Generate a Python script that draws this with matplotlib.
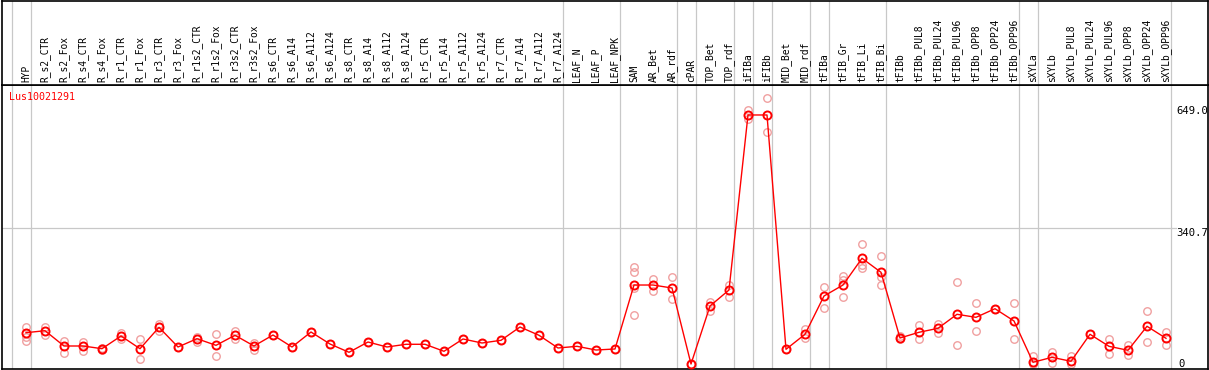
import matplotlib
matplotlib.use("Agg")
import matplotlib.pyplot as plt

gene = "Lus10021291"

categories = [
    "HYP", "R_s2_CTR", "R_s2_Fox", "R_s4_CTR", "R_s4_Fox", "R_r1_CTR", "R_r1_Fox",
    "R_r3_CTR", "R_r3_Fox", "R_r1s2_CTR", "R_r1s2_Fox", "R_r3s2_CTR", "R_r3s2_Fox",
    "R_s6_CTR", "R_s6_A14", "R_s6_A112", "R_s6_A124", "R_s8_CTR", "R_s8_A14",
    "R_s8_A112", "R_s8_A124", "R_r5_CTR", "R_r5_A14", "R_r5_A112", "R_r5_A124",
    "R_r7_CTR", "R_r7_A14", "R_r7_A112", "R_r7_A124", "LEAF_N", "LEAF_P", "LEAF_NPK",
    "SAM", "AR_Bet", "AR_rdf", "cPAR", "TOP_Bet", "TOP_rdf", "iFIBa", "iFIBb",
    "MID_Bet", "MID_rdf", "tFIBa", "tFIB_Gr", "tFIB_Li", "tFIB_Bi", "tFIBb",
    "tFIBb_PUL8", "tFIBb_PUL24", "tFIBb_PUL96", "tFIBb_OPP8", "tFIBb_OPP24",
    "tFIBb_OPP96", "sXYLa", "sXYLb", "sXYLb_PUL8", "sXYLb_PUL24", "sXYLb_PUL96",
    "sXYLb_OPP8", "sXYLb_OPP24", "sXYLb_OPP96",
]

means = [
    78.6, 83.6, 45.2, 45.2, 38.4, 70.3, 38.4, 92.1, 42.7, 63.5, 46.9, 72.1, 45.2,
    72.8, 42.7, 80.3, 50.2, 29.4, 55.2, 42.7, 49.5, 49.5, 31.9, 62.8, 52.7,
    59.5, 92.9, 72.1, 40.2, 44.4, 35.1, 37.7,
    198.3, 198.3, 190.8, 0.0, 145.6, 185.8, 625.2, 625.2,
    36.9, 74.6, 170.7, 198.3, 265.4, 230.2, 65.3,
    79.6, 89.6, 124.8, 117.2, 138.8, 108.0,
    4.3, 16.8, 6.8, 74.6, 44.4, 34.4, 94.7, 64.5,
]

replicates = [
    [93.6, 68.5, 58.5], [93.6, 72.8], [58.5, 28.4], [56.0, 33.4], [40.9, 35.9],
    [77.1, 63.5], [62.0, 11.8], [100.4, 83.6], [42.7], [67.0, 55.2], [75.3, 20.1],
    [83.6, 62.0], [53.5, 35.1],
    [72.8], [42.7], [80.3], [50.2], [29.4], [55.2], [42.7], [49.5], [49.5], [31.9],
    [62.8], [52.7], [59.5], [92.9], [72.1], [40.2], [44.4], [35.1], [37.7],
    [242.8, 231.0, 190.1, 122.3], [212.7, 182.5], [217.7, 162.4], [0.0],
    [156.4, 133.8], [198.3, 169.0], [637.7, 614.4], [667.1, 581.7],
    [36.9], [87.1, 64.5], [192.6, 141.4], [220.9, 210.9, 167.5],
    [300.5, 248.6, 240.3], [271.2, 219.2, 197.6], [70.3, 62.0],
    [97.2, 62.0], [100.4, 77.1], [205.1, 46.9], [153.2, 82.1], [138.8],
    [153.2, 62.8],
    [20.1, 0.0], [30.9, 3.3], [20.1, 0.0], [74.6], [62.8, 25.9], [46.9, 23.3],
    [132.3, 54.5], [80.3, 48.5],
]

group_ends = [-1, 0, 28, 31, 34, 35, 37, 38, 39, 41, 42, 45, 52, 53, 60]
y_labels = [649.0, 340.7, 0]
y_grid = [340.7]

W, H = 1209, 370
fig = plt.figure(figsize=(W / 100, H / 100), dpi=100)

def px_x(p):
    return p / W

left_px, right_px = 1.5, 1207.5
top_px, sep_px, bot_px = 0.5, 85.0, 369.3

ax = fig.add_axes([px_x(left_px), (H - bot_px) / H, (right_px - left_px) / W,
                   (bot_px - sep_px) / H])
axh = fig.add_axes([px_x(left_px), (H - sep_px) / H, (right_px - left_px) / W,
                    (sep_px - top_px) / H])

# x mapping: index i at pixel 26 + 19 i
x0_px, dx_px = 26.0, 19.0
xlim = ((left_px - x0_px) / dx_px, (right_px - x0_px) / dx_px)
# y mapping: 0 at pixel 364, 0.3983 px per unit
y0_px, k = 364.0, 0.3983
ylim = ((y0_px - bot_px) / k, (y0_px - sep_px) / k)

for a in (ax, axh):
    a.set_xlim(*xlim)
    a.set_xticks([])
    a.set_yticks([])
    for s in a.spines.values():
        s.set_color("black")
        s.set_linewidth(1.2)
ax.set_ylim(*ylim)
axh.set_ylim(0, 1)

grid_color = "#c8c8c8"
for g in group_ends:
    xg = g + 0.25
    ax.axvline(xg, color=grid_color, lw=0.9, zorder=1)
    axh.axvline(xg, color=grid_color, lw=0.9, zorder=1)

label_x = (1176 - x0_px) / dx_px
for yg in y_grid:
    ax.plot([xlim[0], label_x], [yg, yg], color=grid_color, lw=0.9, zorder=1)

mono = "DejaVu Sans Mono"
for yl in y_labels:
    txt = f"{yl:.1f}" if yl != 0 else "0"
    if yl == 0:
        ax.text(label_x + 0.15, yl, txt, ha="left", va="center", fontsize=7.6,
                family=mono, color="black", zorder=5)
    else:
        ax.text(label_x, yl, txt, ha="left", va="top", fontsize=7.6,
                family=mono, color="black", zorder=5, clip_on=True)

xs = list(range(len(categories)))
for i, reps in enumerate(replicates):
    ax.plot([i] * len(reps), reps, linestyle="none", marker="o", ms=5.4,
            mfc="none", mec="#f0a0a0", mew=1.0, zorder=2)

ax.plot(xs, means, color="red", lw=1.0, marker="o", ms=5.8, mfc="none",
        mec="red", mew=1.4, zorder=3)

ax.text((9.5 - left_px) / (right_px - left_px), (bot_px - 92.5) / (bot_px - sep_px),
        gene, transform=ax.transAxes, ha="left", va="top", fontsize=7.2,
        family=mono, color="red")

label_y = (sep_px - 82.0) / (sep_px - top_px)
for i, c in enumerate(categories):
    axh.text(i, label_y, c, rotation=90, ha="center", va="bottom", fontsize=6.9,
             family=mono, color="black")

fig.savefig("out.png", dpi=100)
